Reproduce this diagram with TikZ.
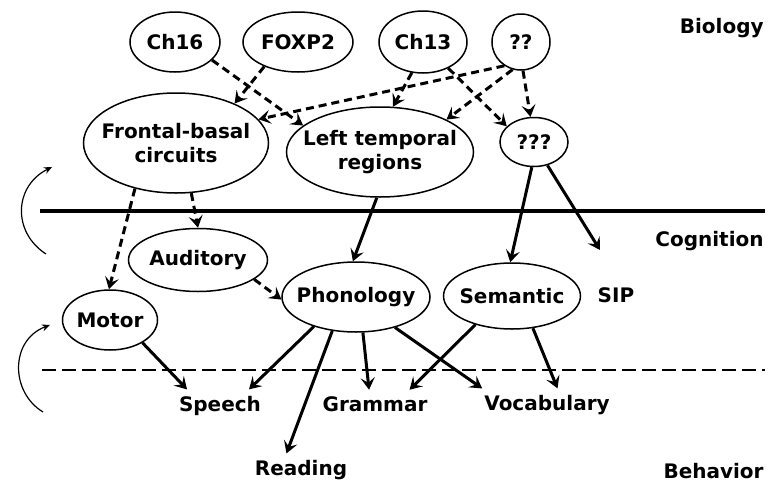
\documentclass[tikz,border=0pt]{standalone}
\usepackage{fontspec}
\setmainfont{DejaVu Sans}
\usetikzlibrary{arrows.meta,positioning,shapes.geometric}

\begin{document}
\begin{tikzpicture}[
x=0.5pt, y=-0.5pt,
blob/.style={draw, ellipse, line width=0.75pt, inner xsep=-10pt, inner ysep=0pt, align=center, font=\bfseries},
tag/.style={inner sep=3pt, anchor=base, font=\bfseries},
level/.style={anchor=base east, inner sep=0pt, font=\bfseries},
link/.style={->, line width=1.5pt},
weak/.style={link, dash pattern=on 4pt off 2.5pt},
turn/.style={-{Stealth[length=4pt,width=3.5pt]}, line width=0.6pt},
>={Stealth[length=6pt,width=7pt,inset=2.5pt]}
]
\useasboundingbox (0,0) rectangle (768,483);

% biology
\node[blob, minimum width=45pt, minimum height=30pt] (ch16) at (175,42) {Ch16};
\node[blob, minimum width=55pt, minimum height=30pt] (foxp2) at (298,42) {FOXP2};
\node[blob, minimum width=44pt, minimum height=31pt] (ch13) at (423,42) {Ch13};
\node[blob, minimum width=29pt, minimum height=28pt] (qq) at (521,42) {??};
\node[blob, minimum width=92.5pt, minimum height=50pt] (fbc) at (176,143) {Frontal-basal\\circuits};
\node[blob, minimum width=93.5pt, minimum height=45pt] (ltr) at (380,152) {Left temporal\\regions};
\node[blob, minimum width=34pt, minimum height=24.5pt] (qqq) at (534,142) {???};

% cognition
\node[blob, minimum width=69.5pt, minimum height=31.5pt] (aud) at (198,260) {Auditory};
\node[blob, minimum width=47.5pt, minimum height=30pt] (motor) at (110,320) {Motor};
\node[blob, minimum width=74pt, minimum height=35pt] (phon) at (356,297) {Phonology};
\node[blob, minimum width=68.5pt, minimum height=33pt] (sem) at (512,296) {Semantic};
\node[tag] (sip) at (616,302) {SIP};
\coordinate (sip tip) at (600,250);

% behavior
\node[tag] (speech) at (220,411) {Speech};
\node[tag] (grammar) at (375,411) {Grammar};
\node[tag] (vocab) at (547,410) {Vocabulary};
\node[tag] (reading) at (301,475) {Reading};

\node[level] (bio) at (764,33) {Biology};
\node[level] (cog) at (764,246) {Cognition};
\node[level] (beh) at (764,478) {Behavior};

% level borders
\draw[line width=2pt] (40,211) -- (765,211);
\draw[line width=0.8pt, dash pattern=on 7pt off 3pt] (42,370) -- (765,370);
\draw[turn] (46,254) .. controls (12,232) and (14,186) .. (52,167);
\draw[turn] (43,412) .. controls (10,392) and (10,340) .. (50,325);

\draw[weak] (ch16.-26) -- (ltr.161);
\draw[weak] (foxp2.216) -- (fbc.34);
\draw[weak] (qq.235) -- (fbc.16);
\draw[weak] (qq.253) -- (ltr.26);
\draw[weak] (qq.274) -- (qqq.98);
\draw[weak] (ch13.250) -- (ltr.74);
\draw[weak] (ch13.314) -- (qqq.150);
\draw[weak] (fbc.228) -- (motor.92);
\draw[weak] (fbc.287) -- (aud.90);
\draw[weak] (aud.341) -- (phon.182);

\draw[link] (ltr.266) -- (phon.95);
\draw[link] (qqq.265) -- (sem.93);
\draw[link] (qqq.300) -- (sip tip);
\draw[link] (motor.325) -- (speech.154);
\draw[link] (phon.215) -- (speech.29);
\draw[link] (phon.235) -- (reading.132);
\draw[link] (phon.281) -- (grammar.113);
\draw[link] (phon.322) -- (vocab.166);
\draw[link] (sem.218) -- (grammar.22);
\draw[link] (sem.303) -- (vocab.57);
\end{tikzpicture}
\end{document}
